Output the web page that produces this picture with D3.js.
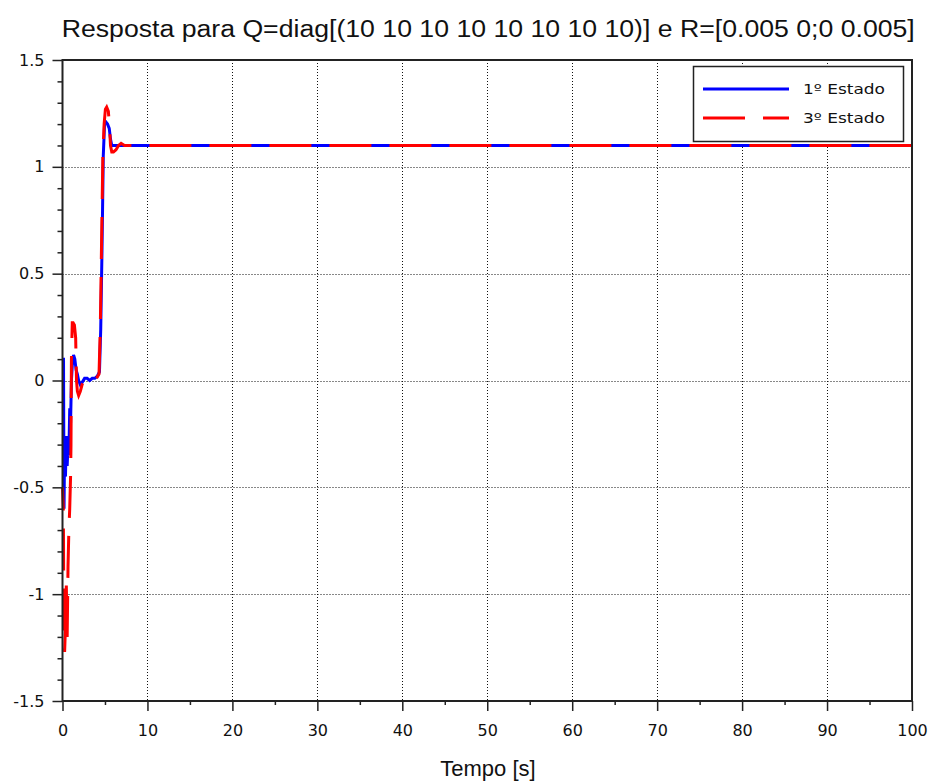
<!DOCTYPE html>
<html>
<head>
<meta charset="utf-8">
<script src="https://cdn.jsdelivr.net/npm/d3@7"></script>
<style>
  body { margin: 0; background: #fff; }
  svg { display: block; }
</style>
</head>
<body>
<svg id="chart" width="932" height="782"></svg>
<script>
//
// Data
//

var tituloTexto = 'Resposta para Q=diag[(10 10 10 10 10 10 10 10)] e R=[0.005 0;0 0.005]'
var eixoXTexto = 'Tempo [s]'
var legendaNomes = ['1º Estado', '3º Estado']

var ticksX = [0, 10, 20, 30, 40, 50, 60, 70, 80, 90, 100]
var ticksY = [-1.5, -1, -0.5, 0, 0.5, 1, 1.5]

// 1º estado (azul)
var tempo1 = [0, 0.12, 0.18, 0.25, 0.35, 0.45, 0.55, 0.65, 0.75, 0.85, 0.95, 1.05, 1.15, 1.3, 1.45,
  1.6, 1.75, 1.9, 2.1, 2.3, 2.6, 2.9, 3.2, 3.5, 3.8, 4.1, 4.35, 4.5, 4.65, 4.8, 4.95, 5.1, 5.3,
  5.5, 5.65, 5.8, 6.0, 6.3, 7, 100]
var estado1 = [0.1, 0.1, -0.6, -0.3, -0.45, -0.26, -0.4, -0.3, -0.35, -0.13, -0.2, 0.0, 0.07, 0.12, 0.1,
  0.05, 0.03, 0.0, -0.02, -0.01, 0.01, 0.01, 0.0, 0.01, 0.01, 0.02, 0.04, 0.24, 0.61, 1.05, 1.2, 1.21, 1.2,
  1.18, 1.13, 1.1, 1.1, 1.1, 1.1, 1.1]

// 3º estado (vermelho)
var tempo3 = [0, 0.1, 0.15, 0.25, 0.35, 0.45, 0.55, 0.65, 0.75, 0.85, 0.95, 1.0, 1.05, 1.15, 1.25, 1.4,
  1.55, 1.65, 1.75, 1.9, 2.1, 2.3, 2.5, 2.8, 3.2, 3.6, 4.0, 4.3, 4.45, 4.6, 4.75, 4.9, 5.05, 5.2, 5.4,
  5.55, 5.65, 5.8, 6.0, 6.3, 6.6, 6.9, 7.3, 8, 100]
var estado3 = [-0.5, -0.6, -1.0, -1.27, -1.15, -0.96, -1.2, -0.87, -0.7, -0.6, -0.45, -0.3, 0.1, 0.27, 0.27, 0.26,
  0.2, 0.0, -0.05, -0.07, -0.05, -0.02, 0.0, 0.01, 0.0, 0.0, 0.01, 0.03, 0.25, 0.65, 1.05, 1.2, 1.27, 1.28, 1.26,
  1.18, 1.1, 1.07, 1.07, 1.08, 1.1, 1.11, 1.1, 1.1, 1.1]

//
// Variables
//

var colorAzul = '#0000ff'
var colorVermelho = '#ff0000'
var colorEixo = '#222'
var plotEsq = 62.5, plotDir = 912, plotTopo = 60, plotBase = 701
var traco = 42, vao = 18 // padrao do tracejado vermelho

var svg = d3.select('#chart')
var x = d3.scaleLinear().domain([0, 100]).range([plotEsq, plotDir])
var y = d3.scaleLinear().domain([-1.5, 1.5]).range([plotBase, plotTopo])

//
// Grid
//

var grid = svg.append('g')
  .attr('stroke', '#111')
  .attr('stroke-width', 1)
  .attr('stroke-dasharray', '1,2')

grid.selectAll('.gx')
  .data(ticksX.slice(1, -1))
  .enter().append('line')
  .attr('x1', d => Math.round(x(d)) + 0.5).attr('x2', d => Math.round(x(d)) + 0.5)
  .attr('y1', plotTopo).attr('y2', plotBase)

grid.selectAll('.gy')
  .data(ticksY.slice(1, -1))
  .enter().append('line')
  .attr('x1', plotEsq).attr('x2', plotDir)
  .attr('y1', d => Math.round(y(d)) + 0.5).attr('y2', d => Math.round(y(d)) + 0.5)

//
// Curves
//

function pontos(ts, vs) {
  return ts.map(function (t, i) { return [t, vs[i]] })
}

var line = d3.line()
  .x(d => x(d[0]))
  .y(d => y(d[1]))

svg.append('path')
  .datum(pontos(tempo1, estado1))
  .attr('d', line)
  .attr('fill', 'none')
  .attr('stroke', colorAzul)
  .attr('stroke-width', 3)

var curva3 = svg.append('path')
  .datum(pontos(tempo3, estado3))
  .attr('d', line)
  .attr('fill', 'none')
  .attr('stroke', colorVermelho)
  .attr('stroke-width', 3)
  .attr('stroke-dasharray', traco + ',' + vao)

// alinha a fase do tracejado: um vao comeca em t ~ 29.3 s no trecho estacionario
var total = curva3.node().getTotalLength()
var s = total - (plotDir - x(29.3))
var periodo = traco + vao
curva3.attr('stroke-dashoffset', (((traco - s) % periodo) + periodo) % periodo)

//
// Axes
//

var axisX = svg.append('g')
  .attr('transform', 'translate(0,' + plotBase + ')')
  .call(d3.axisBottom(x).tickValues(ticksX).tickSize(10).tickFormat(d3.format('d')))
axisX.select('.domain').remove()
axisX.selectAll('.tick line').attr('stroke', colorEixo).attr('stroke-width', 1.5)
axisX.selectAll('.tick text')
  .attr('font-family', 'DejaVu Sans').attr('font-size', 16).attr('fill', '#111')
  .attr('dy', null).attr('y', 35)

svg.append('g')
  .attr('transform', 'translate(0,' + plotBase + ')')
  .call(d3.axisBottom(x).tickValues(d3.range(5, 100, 10)).tickSize(4).tickFormat(''))
  .call(g => g.select('.domain').remove())
  .selectAll('line').attr('stroke', colorEixo).attr('stroke-width', 1.5)

var axisY = svg.append('g')
  .attr('transform', 'translate(' + plotEsq + ',0)')
  .call(d3.axisLeft(y).tickValues(ticksY).tickSize(10).tickFormat(d => String(d)))
axisY.select('.domain').remove()
axisY.selectAll('.tick line').attr('stroke', colorEixo).attr('stroke-width', 1.5)
axisY.selectAll('.tick text')
  .attr('font-family', 'DejaVu Sans').attr('font-size', 16).attr('fill', '#111')
  .attr('x', -18)

var menores = d3.range(-14, 15).map(d => d / 10).filter(d => Math.abs(d * 2 - Math.round(d * 2)) > 1e-6)
svg.append('g')
  .attr('transform', 'translate(' + plotEsq + ',0)')
  .call(d3.axisLeft(y).tickValues(menores).tickSize(5).tickFormat(''))
  .call(g => g.select('.domain').remove())
  .selectAll('line').attr('stroke', colorEixo).attr('stroke-width', 1.5)

// caixa do grafico
svg.append('rect')
  .attr('x', plotEsq).attr('y', plotTopo)
  .attr('width', plotDir - plotEsq).attr('height', plotBase - plotTopo)
  .attr('fill', 'none')
  .attr('stroke', colorEixo)
  .attr('stroke-width', 2)

//
// Texts
//

svg.append('text')
  .attr('x', (plotEsq + plotDir) / 2 + 1).attr('y', 37)
  .attr('text-anchor', 'middle')
  .attr('font-family', 'Liberation Sans')
  .attr('font-size', 23)
  .attr('fill', '#111')
  .attr('textLength', 853)
  .attr('lengthAdjust', 'spacingAndGlyphs')
  .text(tituloTexto)

svg.append('text')
  .attr('x', 488).attr('y', 776)
  .attr('text-anchor', 'middle')
  .attr('font-family', 'Liberation Sans')
  .attr('font-size', 22)
  .attr('fill', '#111')
  .text(eixoXTexto)

//
// Legend
//

var legenda = svg.append('g')
legenda.append('rect')
  .attr('x', 693.5).attr('y', 66.5)
  .attr('width', 210).attr('height', 75)
  .attr('fill', '#fff')
  .attr('stroke', colorEixo)
  .attr('stroke-width', 1.5)

var itens = legenda.selectAll('.item')
  .data(legendaNomes)
  .enter().append('g')
  .attr('transform', (d, i) => 'translate(0,' + (89 + i * 29) + ')')

itens.append('line')
  .attr('x1', 703).attr('x2', 789)
  .attr('stroke', (d, i) => i === 0 ? colorAzul : colorVermelho)
  .attr('stroke-width', 3)
  .attr('stroke-dasharray', (d, i) => i === 0 ? null : traco + ',' + vao)

itens.append('text')
  .attr('x', 803).attr('y', 5)
  .attr('font-family', 'DejaVu Sans')
  .attr('font-size', 14.5)
  .attr('fill', '#111')
  .attr('textLength', 82)
  .attr('lengthAdjust', 'spacingAndGlyphs')
  .text(d => d)
</script>
</body>
</html>
